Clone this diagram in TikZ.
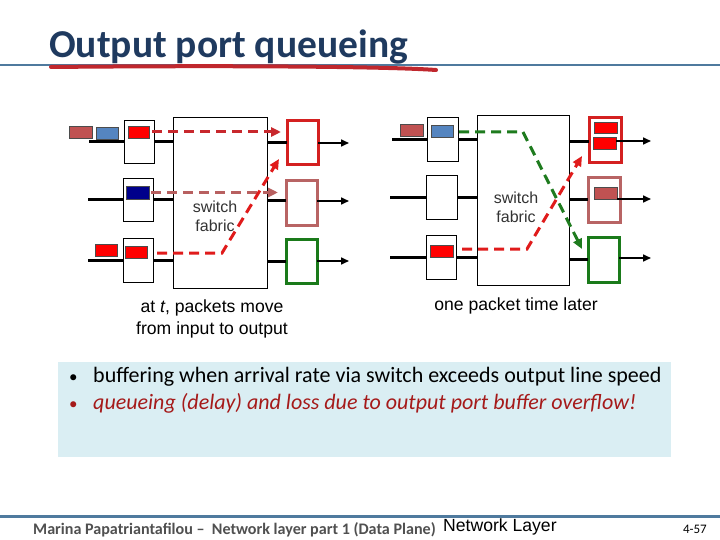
\documentclass[tikz,border=0pt]{standalone}
\usepackage{fontspec}
\setmainfont{Liberation Sans}
\newfontfamily\calibri{Carlito}
\usetikzlibrary{arrows.meta}
\definecolor{titleblue}{HTML}{1F3A5F}
\definecolor{lineblue}{HTML}{4F7A9E}
\definecolor{ulred}{HTML}{C0272D}
\definecolor{pkred}{HTML}{FF0000}
\definecolor{pkblue}{HTML}{5585C0}
\definecolor{pkbrown}{HTML}{C05252}
\definecolor{pkdblue}{HTML}{00008B}
\definecolor{obred}{HTML}{D42020}
\definecolor{obbrown}{HTML}{B86464}
\definecolor{obgreen}{HTML}{1A7A1A}
\definecolor{dashdr}{HTML}{C8282D}
\definecolor{dashbr}{HTML}{B86060}
\definecolor{dashrd}{HTML}{E01B1B}
\definecolor{dashgr}{HTML}{1E7B1E}
\definecolor{bulletbg}{HTML}{DAEEF3}
\definecolor{bulletred}{HTML}{A51A1A}
\definecolor{footgray}{HTML}{505050}
\begin{document}
\begin{tikzpicture}[x=1pt,y=-1pt,
  bx/.style={draw=black,line width=1pt,fill=white,inner sep=0pt,outer sep=0pt},
  fabric/.style={bx},
  inport/.style={bx},
  outport/.style={draw=#1,line width=3pt,fill=white,inner sep=0pt,outer sep=0pt},
  pkt/.style={draw=black!70,line width=0.6pt,fill=#1,inner sep=0pt,outer sep=0pt},
  wire/.style={line width=3pt,black},
  outarrow/.style={line width=1.6pt,black,-{Triangle[length=8pt,width=7pt]}},
  dasharrow/.style={line width=3pt,#1,dash pattern=on 10pt off 6pt,-{Triangle[length=10pt,width=9pt]}},
  fabtext/.style={font=\fontsize{16}{19}\selectfont,text=black!80,align=center},
  caption/.style={font=\fontsize{17.6}{22}\selectfont,align=center}]
\useasboundingbox (0,0) rectangle (720,540);
\fill[white] (0,0) rectangle (720,540);

% title
\draw[line width=2.5pt,lineblue] (0,65) -- (720,65);
\draw[ulred,line width=4pt,line cap=round] (51,67) .. controls (200,65.5) and (380,66) .. (436,70);
\node[anchor=base west,inner sep=0pt,font=\calibri\bfseries\fontsize{39.5}{44}\selectfont,text=titleblue] (title) at (49,58) {Output port queueing};

% ---------------- left diagram ----------------
\node[fabric,minimum width=94,minimum height=170] (F1) at (220,203) {};
\node[fabtext] (F1t) at (215,216) {switch\\fabric};
\node[inport,minimum width=30,minimum height=43] (Li1) at (139,142) {};
\node[inport,minimum width=30,minimum height=43] (Li2) at (138,200) {};
\node[inport,minimum width=30,minimum height=44] (Li3) at (138,260) {};
\coordinate (la1) at (89,142);
\coordinate (la2) at (88,200);
\coordinate (la3) at (88,260);
\draw[wire] (la1) -- (Li1.west);
\draw[wire] (la2) -- (Li2.west);
\draw[wire] (la3) -- (Li3.west);
\draw[wire] (Li1.east) -- (Li1.east -| F1.west);
\draw[wire] (Li2.east) -- (Li2.east -| F1.west);
\draw[wire] (Li3.east) -- (Li3.east -| F1.west);

\node[outport=obred,minimum width=31,minimum height=44] (Lo1) at (302.5,143) {};
\node[outport=obbrown,minimum width=31,minimum height=45] (Lo2) at (301.5,203.5) {};
\node[outport=obgreen,minimum width=31,minimum height=44] (Lo3) at (301.5,261) {};
\draw[wire] (F1.east |- Lo1.west) -- (Lo1.west);
\draw[wire] (F1.east |- 0,201) -- (Lo2.west |- 0,201);
\draw[wire] (F1.east |- Lo3.west) -- (Lo3.west);
\coordinate (le1) at (349,143);
\coordinate (le2) at (349,201);
\coordinate (le3) at (349,261);
\draw[outarrow] (Lo1.east |- le1) -- (le1);
\draw[outarrow] (Lo2.east |- le2) -- (le2);
\draw[outarrow] (Lo3.east |- le3) -- (le3);

\node[pkt=pkred,minimum width=21,minimum height=12] (P1) at (138.5,132) {};
\node[pkt=pkblue,minimum width=22,minimum height=12] (P2) at (107,133) {};
\node[pkt=pkbrown,minimum width=23,minimum height=12] (P3) at (80.5,132) {};
\node[pkt=pkdblue,minimum width=23,minimum height=13] (P4) at (137.5,192.5) {};
\node[pkt=pkred,minimum width=22,minimum height=12] (P5) at (136,252) {};
\node[pkt=pkred,minimum width=22,minimum height=12] (P6) at (106,250) {};

\coordinate (lb1) at (222,253);
\draw[dasharrow=dashdr] ([xshift=3pt]P1.east) -- ([xshift=-6pt]Lo1.west |- P1.east);
\draw[dasharrow=dashbr] ([xshift=2pt]P4.east) -- ([xshift=-8pt]Lo2.west |- P4.east);
\draw[dasharrow=dashrd] ([xshift=10pt]P5.east |- lb1) -- (lb1) -- (279,159);

\node[caption] (cap1) at (212,319) {at \textit{t}, packets move\\from input to output};

% ---------------- right diagram ----------------
\node[fabric,minimum width=92,minimum height=169] (F2) at (523,200.5) {};
\node[fabtext] (F2t) at (516,207.5) {switch\\fabric};
\node[inport,minimum width=31,minimum height=44] (Ri1) at (442.5,140) {};
\node[inport,minimum width=31,minimum height=44] (Ri2) at (441.5,198) {};
\node[inport,minimum width=30,minimum height=44] (Ri3) at (441,257) {};
\coordinate (ra1) at (392,140);
\coordinate (ra2) at (390,198);
\coordinate (ra3) at (390,257);
\draw[wire] (ra1) -- (Ri1.west);
\draw[wire] (ra2) -- (Ri2.west);
\draw[wire] (ra3) -- (Ri3.west);
\draw[wire] (Ri1.east) -- (Ri1.east -| F2.west);
\draw[wire] (Ri2.east) -- (Ri2.east -| F2.west);
\draw[wire] (Ri3.east) -- (Ri3.east -| F2.west);

\node[outport=obred,minimum width=32,minimum height=45] (Ro1) at (605,140.5) {};
\node[outport=obbrown,minimum width=32,minimum height=45] (Ro2) at (604,200.5) {};
\node[outport=obgreen,minimum width=31,minimum height=45] (Ro3) at (603.5,259.5) {};
\draw[wire] (F2.east |- 0,142) -- (Ro1.west |- 0,142);
\draw[wire] (F2.east |- 0,200) -- (Ro2.west |- 0,200);
\draw[wire] (F2.east |- 0,259) -- (Ro3.west |- 0,259);

\node[pkt=pkred,minimum width=23,minimum height=11] (R4) at (605.5,127.5) {};
\node[pkt=pkred,minimum width=23,minimum height=12] (R5) at (604.5,143) {};
\node[pkt=pkbrown,minimum width=23,minimum height=12] (R6) at (605.5,193) {};
\node[pkt=pkblue,minimum width=22,minimum height=12] (R1) at (442,131) {};
\node[pkt=pkbrown,minimum width=23,minimum height=12] (R2) at (411.5,130) {};
\node[pkt=pkred,minimum width=23,minimum height=12] (R3) at (441.5,251) {};

\coordinate (re1) at (651,141);
\coordinate (re2) at (651,199);
\coordinate (re3) at (651,258);
\draw[outarrow] (R5.east |- re1) -- (re1);
\draw[outarrow] (R6.east |- re2) -- (re2);
\draw[outarrow] (Ro3.east |- re3) -- (re3);

\coordinate (rb1) at (523,132);
\coordinate (rb2) at (527,249);
\draw[dasharrow=dashgr] ([xshift=6pt]R1.east |- rb1) -- (rb1) -- (582,249);
\draw[dasharrow=dashrd] ([xshift=9pt]R3.east |- rb2) -- (rb2) -- (582,156);

\node[caption] (cap2) at (516,306) {one packet time later};

% ---------------- bullet box ----------------
\node[fill=bulletbg,inner sep=0pt,minimum width=613,minimum height=95,anchor=north west] (bbox) at (58,362) {};
\node[anchor=base west,inner sep=0pt,font=\calibri\fontsize{17}{20}\selectfont] (b1) at (69,382) {•};
\node[anchor=base west,inner sep=0pt,font=\calibri\fontsize{22}{26}\selectfont] (t1) at (93,382) {buffering when arrival rate via switch exceeds output line speed};
\node[anchor=base west,inner sep=0pt,font=\calibri\fontsize{17}{20}\selectfont,text=bulletred] (b2) at (69,409) {•};
\node[anchor=base west,inner sep=0pt,font=\calibri\itshape\fontsize{22}{26}\selectfont,text=bulletred] (t2) at (93,409) {queueing (delay) and loss due to output port buffer overflow!};

% ---------------- footer ----------------
\draw[line width=3pt,lineblue] (0,516) -- (720,516);
\node[anchor=base west,inner sep=0pt,font=\calibri\bfseries\fontsize{16.1}{18}\selectfont,text=footgray] (f1) at (33,534) {Marina Papatriantafilou –~ Network layer part 1 (Data Plane)};
\node[anchor=base west,inner sep=0pt,font=\fontsize{17.6}{20}\selectfont] (f2) at (443,531) {Network Layer};
\node[anchor=base east,inner sep=0pt,font=\calibri\fontsize{13}{15}\selectfont] (f3) at (707,533) {4-57};
\end{tikzpicture}
\end{document}
